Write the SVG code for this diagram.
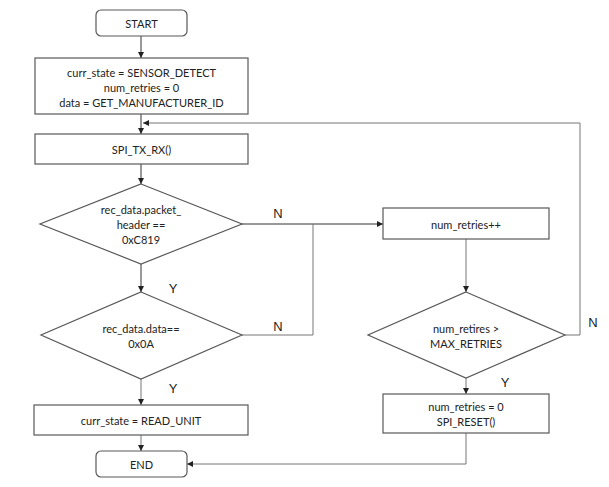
<svg xmlns="http://www.w3.org/2000/svg" width="609" height="487" viewBox="0 0 609 487">
<defs>
<marker id="ah" markerWidth="8" markerHeight="8" refX="6" refY="3" orient="auto" markerUnits="userSpaceOnUse">
<path d="M0,0 L6,3 L0,6 Z" fill="#222"/>
</marker>
<style>
.shape{fill:#fff;stroke:#595959;stroke-width:1.2}
.t{font-family:Lato,"Liberation Sans",Arial,sans-serif;font-size:11px;fill:#222;text-anchor:middle;dominant-baseline:central}
.lbl{font-family:"Liberation Sans",Arial,sans-serif;font-size:13px;fill:#222;text-anchor:middle;dominant-baseline:central}
.c{fill:none;stroke:#333;stroke-width:1}
.g{fill:none;stroke:#777;stroke-width:1}
</style>
</defs>
<rect width="609" height="487" fill="#fff"/>
<g id="connectors">
<path class="c" d="M141,36 V58" marker-end="url(#ah)"/>
<path class="c" d="M141,114 V134" marker-end="url(#ah)"/>
<path class="g" d="M565,335 H580 V123 H143" marker-end="url(#ah)"/>
<path class="c" d="M141,164 V184" marker-end="url(#ah)"/>
<path class="c" d="M242,224 H383" marker-end="url(#ah)"/>
<path class="g" d="M242,335 H313 V224"/>
<path class="c" d="M141,264 V292" marker-end="url(#ah)"/>
<path class="g" d="M141,379 V405" marker-end="url(#ah)"/>
<path class="g" d="M141,435 V451" marker-end="url(#ah)"/>
<path class="g" d="M466,239 V292" marker-end="url(#ah)"/>
<path class="g" d="M466,378 V394" marker-end="url(#ah)"/>
<path class="g" d="M466,433 V464 H187" marker-end="url(#ah)"/>
<text class="lbl" x="278" y="213">N</text>
<text class="lbl" x="278" y="326">N</text>
<text class="lbl" x="173" y="288">Y</text>
<text class="lbl" x="173" y="388">Y</text>
<text class="lbl" x="593" y="322">N</text>
<text class="lbl" x="505" y="382">Y</text>
</g>
<g id="start">
<rect class="shape" x="96" y="10" width="91" height="26" rx="5"/>
<text class="t" x="141.5" y="23">START</text>
</g>
<g id="init">
<rect class="shape" x="35" y="58" width="213" height="56"/>
<text class="t" x="141.5" y="72">curr_state = SENSOR_DETECT</text>
<text class="t" x="141.5" y="87">num_retries = 0</text>
<text class="t" x="141.5" y="102">data = GET_MANUFACTURER_ID</text>
</g>
<g id="spi_tx_rx">
<rect class="shape" x="35" y="134" width="213" height="30"/>
<text class="t" x="141.5" y="149">SPI_TX_RX()</text>
</g>
<g id="check_header">
<polygon class="shape" points="141,184 242,224 141,264 40,224"/>
<text class="t" x="141" y="209">rec_data.packet_</text>
<text class="t" x="141" y="224">header ==</text>
<text class="t" x="141" y="239">0xC819</text>
</g>
<g id="check_data">
<polygon class="shape" points="141,292 242,335 141,379 41,335"/>
<text class="t" x="141" y="328">rec_data.data==</text>
<text class="t" x="141" y="343">0x0A</text>
</g>
<g id="read_unit">
<rect class="shape" x="34" y="405" width="214" height="30"/>
<text class="t" x="141" y="420">curr_state = READ_UNIT</text>
</g>
<g id="end">
<rect class="shape" x="96" y="451" width="91" height="26" rx="5"/>
<text class="t" x="141.5" y="464">END</text>
</g>
<g id="inc_retries">
<rect class="shape" x="383" y="208" width="166" height="31"/>
<text class="t" x="466" y="224">num_retries++</text>
</g>
<g id="check_retries">
<polygon class="shape" points="466,292 565,335 466,378 368,335"/>
<text class="t" x="466" y="328">num_retires &gt;</text>
<text class="t" x="466" y="343">MAX_RETRIES</text>
</g>
<g id="reset">
<rect class="shape" x="383" y="394" width="166" height="39"/>
<text class="t" x="466" y="406">num_retries = 0</text>
<text class="t" x="466" y="421">SPI_RESET()</text>
</g>
</svg>
